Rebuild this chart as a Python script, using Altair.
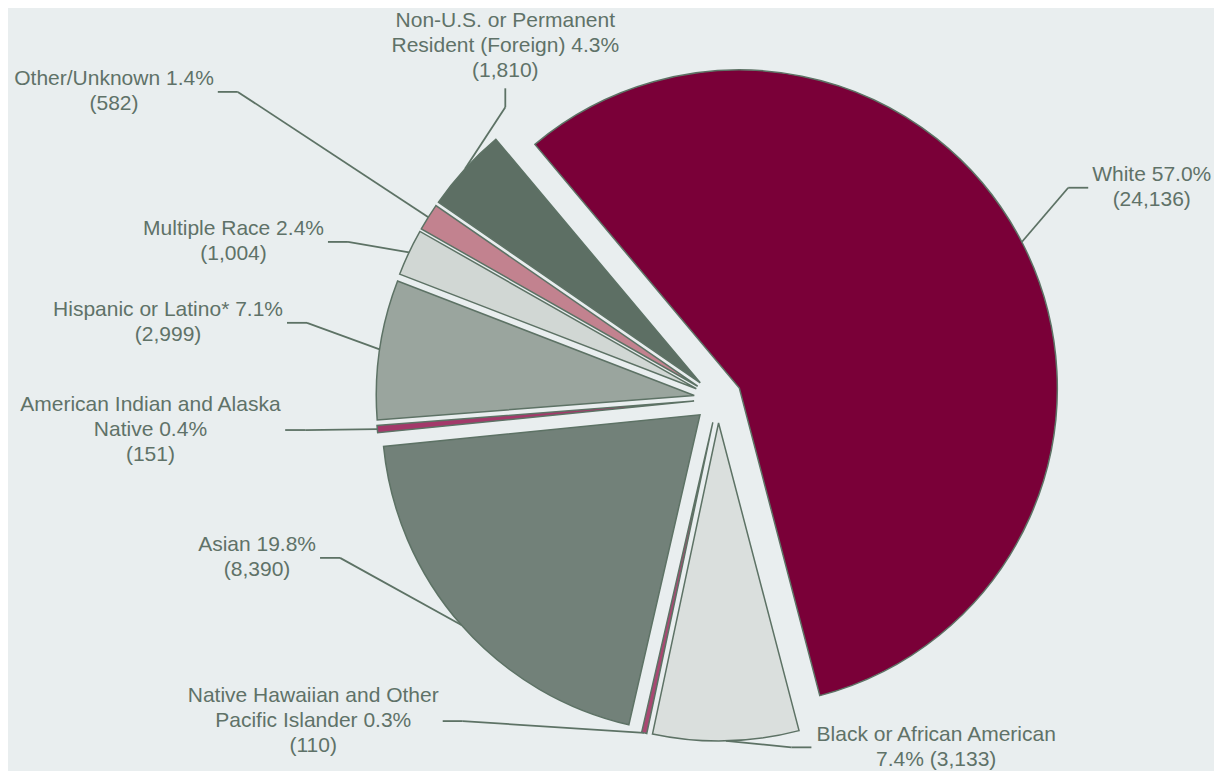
import altair as alt
import pandas as pd

# ---------------- data ----------------
categories = [
    "White",
    "Black or African American",
    "Native Hawaiian and Other Pacific Islander",
    "Asian",
    "American Indian and Alaska Native",
    "Hispanic or Latino*",
    "Multiple Race",
    "Other/Unknown",
    "Non-U.S. or Permanent Resident (Foreign)",
]
counts = [24136, 3133, 110, 8390, 151, 2999, 1004, 582, 1810]
label_lines = [
    ["White 57.0%", "(24,136)"],
    ["Black or African American", "7.4% (3,133)"],
    ["Native Hawaiian and Other", "Pacific Islander 0.3%", "(110)"],
    ["Asian 19.8%", "(8,390)"],
    ["American Indian and Alaska", "Native 0.4%", "(151)"],
    ["Hispanic or Latino* 7.1%", "(2,999)"],
    ["Multiple Race 2.4%", "(1,004)"],
    ["Other/Unknown 1.4%", "(582)"],
    ["Non-U.S. or Permanent", "Resident (Foreign) 4.3%", "(1,810)"],
]
colors = ["#7A0038", "#DADFDD", "#A94872", "#728179", "#A3396A",
          "#9AA59E", "#D1D7D4", "#C2828F", "#5D6F64"]

# label layout: polar position of each leader-line elbow (deg clockwise from 12 o'clock, px from pie centre)
label_angle = [58.9, 168.1, 218.4, 247.2, 265.7, 280.5, 293.0, 302.6, 323.9]
label_dist = [409, 356, 411, 410, 414, 418, 402, 570, 361]
label_side = ["right", "right", "left", "left", "left", "left", "left", "left", "top"]

# ---------------- style / geometry ----------------
W, H = 1206, 763
CX, CY = 710, 391
R = 318
EXPLODE = 24
START = -40  # degrees
FS = 21
LH = 25
BG = "#E9EEEF"
TXT = "#5F7268"
LINE = "#5D7265"

AW = {' ': 278, '(': 333, ')': 333, ',': 278, '.': 278, '/': 278, '*': 389, '%': 889, '-': 333,
      'A': 667, 'B': 667, 'F': 611, 'H': 722, 'I': 278, 'L': 556, 'M': 833, 'N': 722, 'O': 778,
      'P': 667, 'R': 722, 'S': 667, 'U': 722, 'W': 944,
      'a': 556, 'b': 556, 'c': 500, 'd': 556, 'e': 556, 'f': 278, 'g': 556, 'h': 556, 'i': 222,
      'k': 500, 'l': 222, 'm': 833, 'n': 556, 'o': 556, 'p': 556, 'r': 333, 's': 500, 't': 278,
      'u': 556, 'v': 500, 'w': 722, 'x': 500, 'y': 500}


def text_width(s):
    return sum(AW.get(c, 556) for c in s) * FS / 1000.0


df = pd.DataFrame({
    "category": categories,
    "n": counts,
    "order": list(range(len(categories))),
    "label": ["\n".join(l) for l in label_lines],
    "nlines": [len(l) for l in label_lines],
    "halfw": [max(text_width(s) for s in l) / 2 for l in label_lines],
    "la": label_angle,
    "ld": label_dist,
    "side": label_side,
})

S = f"({START}*PI/180)"

base = (
    alt.Chart(df)
    .transform_joinaggregate(total="sum(n)")
    .transform_window(cum="sum(n)", sort=[alt.SortField("order")], frame=[None, 0])
    .transform_calculate(t0=f"{S} + 2*PI*(datum.cum - datum.n)/datum.total")
    .transform_calculate(t1=f"{S} + 2*PI*datum.cum/datum.total")
    .transform_calculate(mid="(datum.t0 + datum.t1)/2")
    .transform_calculate(cx=f"{CX} + {EXPLODE}*sin(datum.mid)")
    .transform_calculate(cy=f"{CY} - {EXPLODE}*cos(datum.mid)")
    .transform_calculate(px=f"datum.cx + {R}*sin(datum.mid)")
    .transform_calculate(py=f"datum.cy - {R}*cos(datum.mid)")
    .transform_calculate(ex=f"{CX} + datum.ld*sin(datum.la*PI/180)")
    .transform_calculate(ey=f"{CY} - datum.ld*cos(datum.la*PI/180)")
    .transform_calculate(hx="datum.side == 'left' ? datum.ex - 20 : (datum.side == 'right' ? datum.ex + 20 : datum.ex)")
    .transform_calculate(hy="datum.side == 'top' ? datum.ey - 19 : datum.ey")
    .transform_calculate(tx="datum.side == 'left' ? datum.hx - 4 - datum.halfw : (datum.side == 'right' ? datum.hx + 4 + datum.halfw : datum.hx)")
    .transform_calculate(tmid=f"datum.side == 'top' ? datum.hy - (datum.nlines*{LH}/2 + 5) : datum.hy")
    .transform_calculate(ty=f"datum.tmid - (datum.nlines - 1)*{LH}/2")
)

arcs = base.mark_arc(radius=R, stroke=LINE, strokeWidth=1.5).encode(
    theta=alt.Theta("t0:Q", scale=None),
    theta2=alt.Theta2("t1:Q"),
    x=alt.X("cx:Q", scale=None, axis=None),
    y=alt.Y("cy:Q", scale=None, axis=None),
    color=alt.Color("category:N", scale=alt.Scale(domain=categories, range=colors), legend=None),
)

lead1 = base.mark_rule(color=LINE, strokeWidth=1.8).encode(
    x=alt.X("px:Q", scale=None, axis=None),
    y=alt.Y("py:Q", scale=None, axis=None),
    x2="ex:Q",
    y2="ey:Q",
)

lead2 = base.mark_rule(color=LINE, strokeWidth=1.8).encode(
    x=alt.X("ex:Q", scale=None, axis=None),
    y=alt.Y("ey:Q", scale=None, axis=None),
    x2="hx:Q",
    y2="hy:Q",
)

labels = base.mark_text(
    align="center", baseline="middle", lineBreak="\n", fontSize=FS, lineHeight=LH,
    font="Liberation Sans", color=TXT,
).encode(
    x=alt.X("tx:Q", scale=None, axis=None),
    y=alt.Y("ty:Q", scale=None, axis=None),
    text="label:N",
)

chart = (
    alt.layer(arcs, lead1, lead2, labels)
    .properties(width=W, height=H, background=BG, padding=0, autosize=alt.AutoSizeParams(type="none"))
    .configure_view(stroke=None)
)

chart.save("out.html", embed_options={"renderer": "svg", "actions": False})
